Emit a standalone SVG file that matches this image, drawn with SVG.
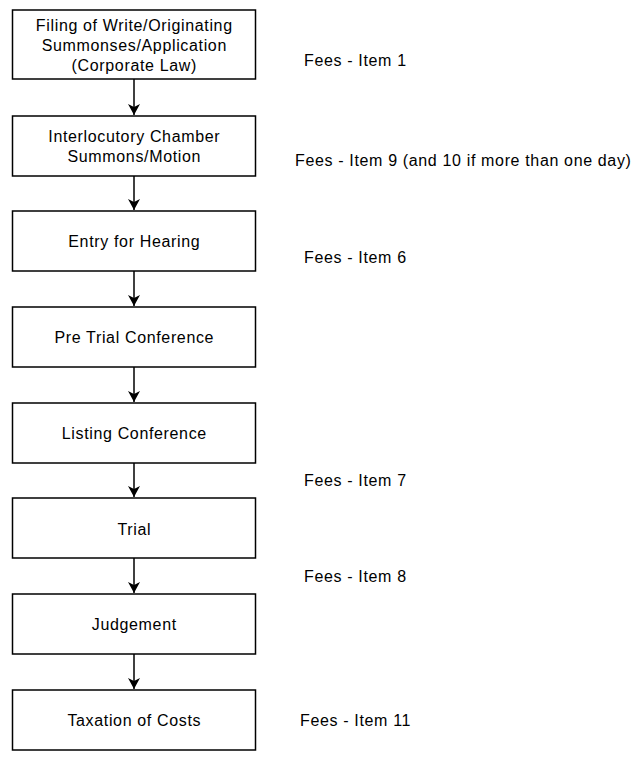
<svg xmlns="http://www.w3.org/2000/svg" width="644" height="757" viewBox="0 0 644 757">
<style>
.box{fill:#fff;stroke:#000;stroke-width:1.5}
.t{font-family:"Liberation Sans",Arial,sans-serif;font-size:16px;letter-spacing:0.65px;fill:#000}
.c{text-anchor:middle}
.edge{stroke:#000;stroke-width:1.5;fill:none;marker-end:url(#arr)}
</style>
<defs>
<marker id="arr" markerWidth="14" markerHeight="14" refX="11" refY="7" orient="auto" markerUnits="userSpaceOnUse">
<path d="M0,1 L11,7 L0,13 L3,7 Z" fill="#000"/>
</marker>
</defs>
<rect width="644" height="757" fill="#fff"/>
<g id="connectors">
<line class="edge" x1="134" y1="79" x2="134" y2="115"/>
<line class="edge" x1="134" y1="176" x2="134" y2="210"/>
<line class="edge" x1="134" y1="271" x2="134" y2="306"/>
<line class="edge" x1="134" y1="367" x2="134" y2="402"/>
<line class="edge" x1="134" y1="463" x2="134" y2="497"/>
<line class="edge" x1="134" y1="558" x2="134" y2="593"/>
<line class="edge" x1="134" y1="654" x2="134" y2="689"/>
</g>
<g id="n1"><rect class="box" x="12.5" y="10" width="243" height="69"/>
<text class="t c" x="134.3" y="31">Filing of Write/Originating</text>
<text class="t c" x="134.3" y="51">Summonses/Application</text>
<text class="t c" x="134.3" y="71">(Corporate Law)</text></g>
<g id="n2"><rect class="box" x="12.5" y="116" width="243" height="60"/>
<text class="t c" x="134.3" y="142">Interlocutory Chamber</text>
<text class="t c" x="134.3" y="162">Summons/Motion</text></g>
<g id="n3"><rect class="box" x="12.5" y="211" width="243" height="60"/>
<text class="t c" x="134.3" y="247">Entry for Hearing</text></g>
<g id="n4"><rect class="box" x="12.5" y="307" width="243" height="60"/>
<text class="t c" x="134.3" y="343">Pre Trial Conference</text></g>
<g id="n5"><rect class="box" x="12.5" y="403" width="243" height="60"/>
<text class="t c" x="134.3" y="439">Listing Conference</text></g>
<g id="n6"><rect class="box" x="12.5" y="498" width="243" height="60"/>
<text class="t c" x="134.3" y="535">Trial</text></g>
<g id="n7"><rect class="box" x="12.5" y="594" width="243" height="60"/>
<text class="t c" x="134.3" y="630">Judgement</text></g>
<g id="n8"><rect class="box" x="12.5" y="690" width="243" height="60"/>
<text class="t c" x="134.3" y="726">Taxation of Costs</text></g>
<g id="fees">
<text class="t" x="304" y="66">Fees - Item 1</text>
<text class="t" x="295" y="166">Fees - Item 9 (and 10 if more than one day)</text>
<text class="t" x="304" y="263">Fees - Item 6</text>
<text class="t" x="304" y="486">Fees - Item 7</text>
<text class="t" x="304" y="582">Fees - Item 8</text>
<text class="t" x="300" y="726">Fees - Item 11</text>
</g>
</svg>
